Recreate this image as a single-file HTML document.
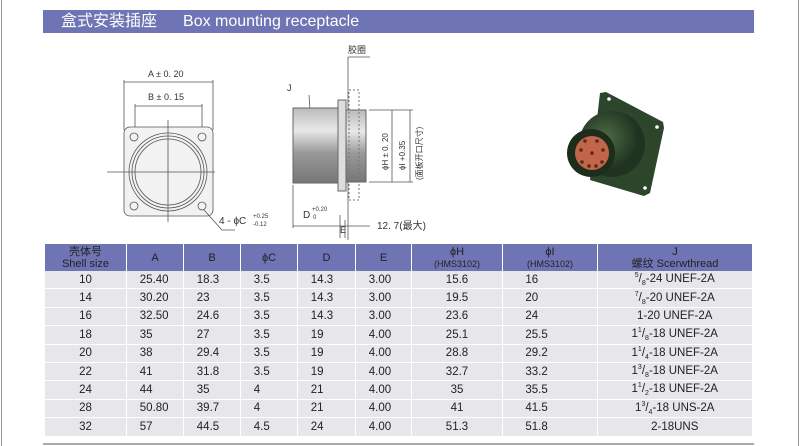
<!DOCTYPE html>
<html><head><meta charset="utf-8"><style>
body{margin:0;width:800px;height:446px;background:#fff;position:relative;overflow:hidden;font-family:"Liberation Sans","Noto Sans CJK SC",sans-serif}
.hdr{position:absolute;left:43px;top:10px;width:711px;height:23px;background:#6f74b4;color:#fff;font-size:16px;line-height:23px}
table{position:absolute;left:45px;top:244px;border-collapse:collapse;font-size:11.5px;color:#222}
td{height:17.4px;border-bottom:1px solid #fff;border-right:1px solid #fff;background:#e7e7ea;padding:0;text-align:left}
th{background:#6f74b4;color:#222;font-weight:normal;height:27px;border-right:1px solid #fff;font-size:11px;line-height:12px;padding:0}
td.c{text-align:center}
sup,sub{font-size:7px}
</style></head><body>
<div style="position:absolute;left:1px;top:0;width:1px;height:446px;background:#999"></div>
<div style="position:absolute;left:798px;top:0;width:1px;height:446px;background:#999"></div>
<div class="hdr"><span style="margin-left:18px">盒式安装插座</span><span style="margin-left:26px">Box mounting receptacle</span></div>
<svg style="position:absolute;left:0;top:0" width="800" height="240" font-family="Liberation Sans" font-size="9" fill="#333">
<g stroke="#555" fill="none" stroke-width="0.8">
<line x1="124" y1="80" x2="124" y2="130"/><line x1="213" y1="80" x2="213" y2="130"/><line x1="124" y1="82" x2="213" y2="82"/>
<line x1="135" y1="104" x2="135" y2="130"/><line x1="202" y1="104" x2="202" y2="130"/><line x1="135" y1="106" x2="202" y2="106"/>
<rect x="124" y="127" width="89" height="89" rx="6" fill="#f2f2f2"/>
<circle cx="168" cy="172" r="39"/><circle cx="168" cy="172" r="36"/><circle cx="168" cy="172" r="33"/>
<circle cx="134" cy="137" r="4"/><circle cx="202" cy="137" r="4"/><circle cx="134" cy="206" r="4"/><circle cx="202" cy="206" r="4"/>
<line x1="107" y1="172" x2="215" y2="172"/><line x1="168" y1="120" x2="168" y2="222"/>
<polyline points="204,210 222,230 235,230"/>
<line x1="309" y1="95" x2="310" y2="110"/>
<line x1="348" y1="57" x2="370" y2="57"/><line x1="348" y1="57" x2="348" y2="240"/>
<line x1="369" y1="110" x2="413" y2="110"/><line x1="369" y1="182" x2="413" y2="182"/>
<line x1="392" y1="110" x2="392" y2="182"/><line x1="410" y1="110" x2="410" y2="182"/>
<line x1="293" y1="185" x2="293" y2="228"/><line x1="293" y1="226" x2="370" y2="226"/>
<line x1="340" y1="215" x2="340" y2="238"/><line x1="345" y1="220" x2="345" y2="238"/>
</g>
<defs><linearGradient id="cy" x1="0" y1="0" x2="0" y2="1"><stop offset="0" stop-color="#bbb"/><stop offset="0.3" stop-color="#e8e8e8"/><stop offset="0.6" stop-color="#999"/><stop offset="1" stop-color="#777"/></linearGradient>
<radialGradient id="gr" cx="0.4" cy="0.4"><stop offset="0" stop-color="#4d6b45"/><stop offset="1" stop-color="#1f3320"/></radialGradient></defs>
<rect x="293" y="108" width="45" height="75" fill="url(#cy)" stroke="#666"/>
<rect x="338" y="100" width="8" height="91" fill="#ddd" stroke="#666"/>
<rect x="346" y="110" width="20" height="72" fill="url(#cy)" stroke="#666"/>
<rect x="349" y="90" width="10" height="110" fill="none" stroke="#777" stroke-dasharray="2,2"/>
<text x="348" y="53">胶圈</text><text x="287" y="91">J</text>
<text x="148" y="77">A ± 0. 20</text><text x="148" y="100">B ± 0. 15</text>
<text x="219" y="224" font-size="10">4 - ϕC</text><text x="253" y="218" font-size="6">+0.25</text><text x="253" y="226" font-size="6">-0.12</text>
<text x="303" y="218" font-size="10">D</text><text x="312" y="211" font-size="6">+0.20</text><text x="313" y="219" font-size="6">0</text>
<text x="340" y="233" font-size="9">E</text><text x="377" y="229" font-size="10">12. 7(最大)</text>
<text transform="translate(388,170) rotate(-90)" font-size="8">ϕH ± 0. 20</text>
<text transform="translate(405,170) rotate(-90)" font-size="8">ϕI  +0.35</text>
<text transform="translate(422,180) rotate(-90)" font-size="8">(面板开口尺寸)</text>
<polygon points="600,93 606,92 663,122 664,128 650,193 644,196 590,180" fill="#2c452b"/>
<circle cx="609" cy="99" r="1.8" fill="#fff"/><circle cx="657" cy="127" r="1.8" fill="#fff"/><circle cx="645" cy="188" r="1.8" fill="#fff"/>
<circle cx="612" cy="144" r="33" fill="url(#gr)"/>
<circle cx="591" cy="153" r="24" fill="#1c2d1c"/>
<circle cx="592" cy="153" r="17" fill="#c1664a"/>
<g fill="#5a2a1c"><circle cx="592" cy="153" r="1.8"/><circle cx="585" cy="141" r="1.8"/><circle cx="597" cy="141" r="1.8"/><circle cx="581" cy="150" r="1.8"/><circle cx="603" cy="150" r="1.8"/><circle cx="582" cy="162" r="1.8"/><circle cx="602" cy="162" r="1.8"/><circle cx="589" cy="166" r="1.8"/><circle cx="596" cy="166" r="1.8"/></g>
</svg>
<table>
<tr><th style="width:81px">壳体号<br>Shell size</th><th style="width:56px">A</th><th style="width:56px">B</th><th style="width:56px">ϕC</th><th style="width:57px">D</th><th style="width:55px">E</th><th style="width:90px">ϕH<br><span style="font-size:9px">(HMS3102)</span></th><th style="width:94px">ϕI<br><span style="font-size:9px">(HMS3102)</span></th><th style="width:154px;border-right:0">J<br>螺纹 Scerwthread</th></tr>
<tr><td class="c">10</td><td>&nbsp;&nbsp;&nbsp;&nbsp;25.40</td><td>&nbsp;&nbsp;&nbsp;&nbsp;18.3</td><td>&nbsp;&nbsp;&nbsp;&nbsp;3.5</td><td>&nbsp;&nbsp;&nbsp;&nbsp;14.3</td><td>&nbsp;&nbsp;&nbsp;&nbsp;3.00</td><td class="c">15.6</td><td>&nbsp;&nbsp;&nbsp;&nbsp;&nbsp;&nbsp;&nbsp;16</td><td class="c"><sup>5</sup>/<sub>8</sub>-24 UNEF-2A</td></tr>
<tr><td class="c">14</td><td>&nbsp;&nbsp;&nbsp;&nbsp;30.20</td><td>&nbsp;&nbsp;&nbsp;&nbsp;23</td><td>&nbsp;&nbsp;&nbsp;&nbsp;3.5</td><td>&nbsp;&nbsp;&nbsp;&nbsp;14.3</td><td>&nbsp;&nbsp;&nbsp;&nbsp;3.00</td><td class="c">19.5</td><td>&nbsp;&nbsp;&nbsp;&nbsp;&nbsp;&nbsp;&nbsp;20</td><td class="c"><sup>7</sup>/<sub>8</sub>-20 UNEF-2A</td></tr>
<tr><td class="c">16</td><td>&nbsp;&nbsp;&nbsp;&nbsp;32.50</td><td>&nbsp;&nbsp;&nbsp;&nbsp;24.6</td><td>&nbsp;&nbsp;&nbsp;&nbsp;3.5</td><td>&nbsp;&nbsp;&nbsp;&nbsp;14.3</td><td>&nbsp;&nbsp;&nbsp;&nbsp;3.00</td><td class="c">23.6</td><td>&nbsp;&nbsp;&nbsp;&nbsp;&nbsp;&nbsp;&nbsp;24</td><td class="c">1-20 UNEF-2A</td></tr>
<tr><td class="c">18</td><td>&nbsp;&nbsp;&nbsp;&nbsp;35</td><td>&nbsp;&nbsp;&nbsp;&nbsp;27</td><td>&nbsp;&nbsp;&nbsp;&nbsp;3.5</td><td>&nbsp;&nbsp;&nbsp;&nbsp;19</td><td>&nbsp;&nbsp;&nbsp;&nbsp;4.00</td><td class="c">25.1</td><td>&nbsp;&nbsp;&nbsp;&nbsp;&nbsp;&nbsp;&nbsp;25.5</td><td class="c">1<sup>1</sup>/<sub>8</sub>-18 UNEF-2A</td></tr>
<tr><td class="c">20</td><td>&nbsp;&nbsp;&nbsp;&nbsp;38</td><td>&nbsp;&nbsp;&nbsp;&nbsp;29.4</td><td>&nbsp;&nbsp;&nbsp;&nbsp;3.5</td><td>&nbsp;&nbsp;&nbsp;&nbsp;19</td><td>&nbsp;&nbsp;&nbsp;&nbsp;4.00</td><td class="c">28.8</td><td>&nbsp;&nbsp;&nbsp;&nbsp;&nbsp;&nbsp;&nbsp;29.2</td><td class="c">1<sup>1</sup>/<sub>4</sub>-18 UNEF-2A</td></tr>
<tr><td class="c">22</td><td>&nbsp;&nbsp;&nbsp;&nbsp;41</td><td>&nbsp;&nbsp;&nbsp;&nbsp;31.8</td><td>&nbsp;&nbsp;&nbsp;&nbsp;3.5</td><td>&nbsp;&nbsp;&nbsp;&nbsp;19</td><td>&nbsp;&nbsp;&nbsp;&nbsp;4.00</td><td class="c">32.7</td><td>&nbsp;&nbsp;&nbsp;&nbsp;&nbsp;&nbsp;&nbsp;33.2</td><td class="c">1<sup>3</sup>/<sub>8</sub>-18 UNEF-2A</td></tr>
<tr><td class="c">24</td><td>&nbsp;&nbsp;&nbsp;&nbsp;44</td><td>&nbsp;&nbsp;&nbsp;&nbsp;35</td><td>&nbsp;&nbsp;&nbsp;&nbsp;4</td><td>&nbsp;&nbsp;&nbsp;&nbsp;21</td><td>&nbsp;&nbsp;&nbsp;&nbsp;4.00</td><td class="c">35</td><td>&nbsp;&nbsp;&nbsp;&nbsp;&nbsp;&nbsp;&nbsp;35.5</td><td class="c">1<sup>1</sup>/<sub>2</sub>-18 UNEF-2A</td></tr>
<tr><td class="c">28</td><td>&nbsp;&nbsp;&nbsp;&nbsp;50.80</td><td>&nbsp;&nbsp;&nbsp;&nbsp;39.7</td><td>&nbsp;&nbsp;&nbsp;&nbsp;4</td><td>&nbsp;&nbsp;&nbsp;&nbsp;21</td><td>&nbsp;&nbsp;&nbsp;&nbsp;4.00</td><td class="c">41</td><td>&nbsp;&nbsp;&nbsp;&nbsp;&nbsp;&nbsp;&nbsp;41.5</td><td class="c">1<sup>3</sup>/<sub>4</sub>-18 UNS-2A</td></tr>
<tr><td class="c">32</td><td>&nbsp;&nbsp;&nbsp;&nbsp;57</td><td>&nbsp;&nbsp;&nbsp;&nbsp;44.5</td><td>&nbsp;&nbsp;&nbsp;&nbsp;4.5</td><td>&nbsp;&nbsp;&nbsp;&nbsp;24</td><td>&nbsp;&nbsp;&nbsp;&nbsp;4.00</td><td class="c">51.3</td><td>&nbsp;&nbsp;&nbsp;&nbsp;&nbsp;&nbsp;&nbsp;51.8</td><td class="c">2-18UNS</td></tr>
</table>
<div style="position:absolute;left:43px;top:443px;width:711px;height:2px;background:#aaa"></div>
</body></html>
